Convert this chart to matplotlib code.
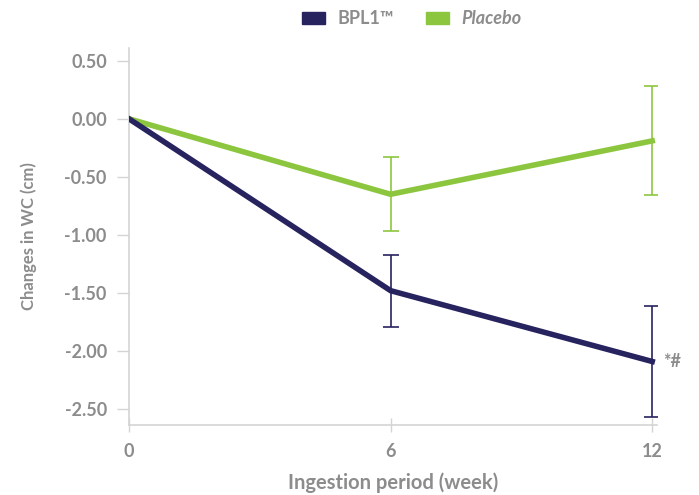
import matplotlib
matplotlib.use("Agg")
import matplotlib.pyplot as plt
from matplotlib.patches import Patch

# Datos
semanas = [0, 6, 12]
bpl1 = [0.0, -1.48, -2.09]
bpl1_err = [0.0, 0.31, 0.48]
placebo = [0.0, -0.65, -0.19]
placebo_err = [0.0, 0.32, 0.47]
yticks = [0.5, 0.0, -0.5, -1.0, -1.5, -2.0, -2.5]

gris = "#8c8c8c"
navy = "#27235e"
verde = "#8cc63f"

plt.rcParams['font.family'] = ['Lato', 'DejaVu Sans']
plt.rcParams['font.weight'] = 'bold'

fig = plt.figure(figsize=(6.99, 4.95), dpi=100)
ax = fig.add_axes([129 / 699, 70 / 495, 528 / 699, 377 / 495])

# Lineas con barras de error
ax.errorbar(semanas[1:], placebo[1:], yerr=placebo_err[1:], fmt='none',
            ecolor=verde, elinewidth=1.2, capsize=5.5, capthick=1.2, zorder=2)
ax.errorbar(semanas[1:], bpl1[1:], yerr=bpl1_err[1:], fmt='none',
            ecolor=navy, elinewidth=1.2, capsize=5.5, capthick=1.2, zorder=2)
ax.plot(semanas, placebo, color=verde, lw=4, solid_joinstyle='miter', zorder=3)
ax.plot(semanas, bpl1, color=navy, lw=4, solid_joinstyle='miter', zorder=4)

ax.text(12.25, bpl1[2], "*#", color=gris, fontsize=13, fontweight='bold',
        va='center', ha='left')

ax.set_xlim(0, 12.11)
ax.set_ylim(-2.637, 0.61)
ax.set_xticks(semanas)
ax.set_yticks(yticks)
ax.set_yticklabels([f"{v:.2f}" for v in yticks])

for lado in ['top', 'right']:
    ax.spines[lado].set_visible(False)
for lado in ['left', 'bottom']:
    ax.spines[lado].set_color("#d4d4d4")
    ax.spines[lado].set_linewidth(1.2)

ax.tick_params(axis='y', direction='out', length=9, width=1, color="#d4d4d4",
               labelcolor=gris, labelsize=13, pad=7)
ax.tick_params(axis='x', direction='inout', length=10, width=1, color="#d4d4d4",
               labelcolor=gris, labelsize=13, pad=8)

ax.set_xlabel("Ingestion period (week)", color=gris, fontsize=14.5,
              fontweight='bold', labelpad=9)
ax.set_ylabel("Changes in WC (cm)", color=gris, fontsize=12,
              fontweight='bold', labelpad=20)

handles = [Patch(color=navy), Patch(color=verde)]
leg = fig.legend(handles, ["BPL1™", "Placebo"], loc='center',
                 bbox_to_anchor=(0.589, 0.962), ncol=2, frameon=False,
                 handlelength=1.25, handleheight=0.7, columnspacing=1.8,
                 handletextpad=0.7, fontsize=13)
for t in leg.get_texts():
    t.set_color(gris)
    t.set_fontweight('bold')
leg.get_texts()[1].set_fontstyle('italic')

fig.savefig("out.png", dpi=100)
